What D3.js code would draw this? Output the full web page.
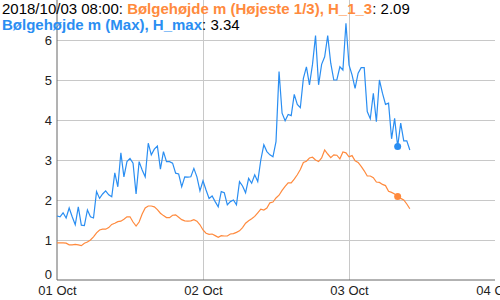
<!DOCTYPE html>
<html>
<head>
<meta charset="utf-8">
<script src="https://cdn.jsdelivr.net/npm/d3@7"></script>
<style>
  body { margin: 0; background: #fff; }
  text { font-family: "Liberation Sans", Arial, sans-serif; }
</style>
</head>
<body>
<svg id="chart" width="500" height="300"></svg>
<script>
// half-hourly readings from 2018-10-01 00:00 UTC
const hMax = [1.6,1.58,1.68,1.55,1.8,1.58,1.38,1.83,1.37,1.36,1.75,1.58,1.55,2.21,2.04,2.15,2.23,2.13,2.08,2.68,
  2.33,3.18,2.58,2.96,3.04,2.92,2.15,2.96,2.75,2.58,3.42,3.13,3.27,3.35,2.77,3.21,2.96,2.96,2.92,2.67,
  2.65,2.33,2.58,2.57,2.58,2.79,2.58,2.23,2.48,2.25,2.04,2.1,1.96,1.83,2.21,2.18,1.88,1.96,2.0,1.88,
  2.46,2.35,2.18,2.54,2.42,2.63,2.46,3.0,3.38,3.21,3.13,3.08,3.46,5.21,4.17,3.98,4.14,4.11,4.64,4.39,
  4.31,5.04,5.33,4.88,5.39,6.11,4.88,5.39,5.58,6.11,5.42,5.0,5.0,5.33,5.25,6.42,5.38,5.13,4.79,5.17,
  5.31,5.31,4.21,4.03,4.67,3.96,5.0,4.67,4.39,4.42,3.53,4.04,3.34,3.92,3.48,3.48,3.25]
const h13 = [0.93,0.93,0.93,0.92,0.88,0.88,0.89,0.88,0.86,0.92,0.95,1.0,1.08,1.18,1.25,1.27,1.27,1.31,1.39,1.42,
  1.46,1.47,1.52,1.58,1.58,1.45,1.35,1.45,1.65,1.8,1.85,1.85,1.83,1.76,1.67,1.61,1.56,1.56,1.62,1.63,
  1.57,1.51,1.48,1.47,1.48,1.51,1.47,1.38,1.25,1.17,1.14,1.15,1.11,1.07,1.11,1.1,1.1,1.15,1.16,1.19,
  1.23,1.31,1.42,1.48,1.53,1.59,1.68,1.77,1.75,1.8,1.93,1.95,2.05,2.12,2.24,2.34,2.43,2.43,2.52,2.63,
  2.76,2.94,2.97,3.05,3.07,3.0,2.96,3.05,3.25,3.15,3.06,3.13,3.12,3.03,3.2,3.18,3.08,3.11,2.98,2.94,
  2.84,2.73,2.6,2.6,2.56,2.45,2.44,2.39,2.36,2.22,2.19,2.15,2.09,2.04,2.0,1.9,1.78]
const yTicks = [0,1,2,3,4,5,6]
const xTicks = ["2018-10-01","2018-10-02","2018-10-03","2018-10-04"]
const selIdx = 112   // 2018/10/03 08:00

const start = new Date(Date.UTC(2018, 9, 1))
const timeAt = i => d3.utcMinute.offset(start, 30 * i)

let svg = d3.select("#chart"),
    width = +svg.attr("width"),
    height = +svg.attr("height");
const m = {left: 57, right: 5, top: 0, bottom: 20}

let x = d3.scaleUtc()
    .domain([new Date(xTicks[0]), new Date(xTicks[xTicks.length - 1])])
    .range([m.left, width - m.right])
let y = d3.scaleLinear().domain([0, 7]).range([height - m.bottom, m.top])

const orange = "#ff8a3d", blue = "#2a8ef2"

// grid
svg.append("g")
    .attr("transform", `translate(${m.left},0)`)
    .call(d3.axisLeft(y).tickValues(yTicks.slice(1)).tickSize(-(width - m.right - m.left)).tickFormat(""))
    .call(g => g.select(".domain").remove())
    .selectAll("line").attr("stroke", "#c8c8c8")
svg.append("g")
    .attr("transform", `translate(0,${height - m.bottom})`)
    .call(d3.axisBottom(x).tickValues(xTicks.slice(1, 3).map(d => new Date(d))).tickSize(-(height - m.bottom - m.top)).tickFormat(""))
    .call(g => g.select(".domain").remove())
    .selectAll("line").attr("stroke", "#c8c8c8")

// axis lines
svg.append("line")
    .attr("x1", m.left).attr("x2", m.left)
    .attr("y1", m.top).attr("y2", height - m.bottom)
    .attr("stroke", "#666")
svg.append("line")
    .attr("x1", m.left).attr("x2", width - m.right)
    .attr("y1", height - m.bottom).attr("y2", height - m.bottom)
    .attr("stroke", "#666")

// tick labels
svg.append("g")
    .attr("transform", `translate(${m.left},0)`)
    .call(d3.axisLeft(y).tickValues(yTicks).tickSize(0).tickPadding(5).tickFormat(d3.format("d")))
    .call(g => g.select(".domain").remove())
    .selectAll("text").attr("font-size", 13).attr("fill", "#222")
    .attr("font-family", "Liberation Sans, Arial, sans-serif")
    .attr("dy", d => d === 0 ? "-0.1em" : "0.32em")
svg.append("g")
    .attr("transform", `translate(0,${height - m.bottom})`)
    .call(d3.axisBottom(x).tickValues(xTicks.map(d => new Date(d))).tickSize(0).tickPadding(6).tickFormat(d3.utcFormat("%d %b")))
    .call(g => g.select(".domain").remove())
    .selectAll("text").attr("font-size", 13).attr("fill", "#222")
    .attr("font-family", "Liberation Sans, Arial, sans-serif")

// lines
const line = d3.line().x((d, i) => x(timeAt(i))).y(d => y(d))
svg.append("path").datum(h13)
    .attr("d", line).attr("fill", "none")
    .attr("stroke", orange).attr("stroke-width", 1.2)
svg.append("path").datum(hMax)
    .attr("d", line).attr("fill", "none")
    .attr("stroke", blue).attr("stroke-width", 1.2)

svg.append("circle")
    .attr("cx", x(timeAt(selIdx))).attr("cy", y(h13[selIdx]))
    .attr("r", 3.5).attr("fill", orange)
svg.append("circle")
    .attr("cx", x(timeAt(selIdx))).attr("cy", y(hMax[selIdx]))
    .attr("r", 3.5).attr("fill", blue)

// header
const fmt = d3.utcFormat("%Y/%m/%d %H:%M")
let t1 = svg.append("text").attr("x", 2).attr("y", 14).attr("font-size", 15)
t1.append("tspan").attr("fill", "#000").text(fmt(timeAt(selIdx)) + ": ")
t1.append("tspan").attr("fill", orange).attr("font-weight", "bold").text("Bølgehøjde m (Højeste 1/3), H_1_3")
t1.append("tspan").attr("fill", "#000").text(": " + h13[selIdx].toFixed(2))
let t2 = svg.append("text").attr("x", 2).attr("y", 30).attr("font-size", 15)
t2.append("tspan").attr("fill", blue).attr("font-weight", "bold").text("Bølgehøjde m (Max), H_max")
t2.append("tspan").attr("fill", "#000").text(": " + hMax[selIdx].toFixed(2))
</script>
</body>
</html>
